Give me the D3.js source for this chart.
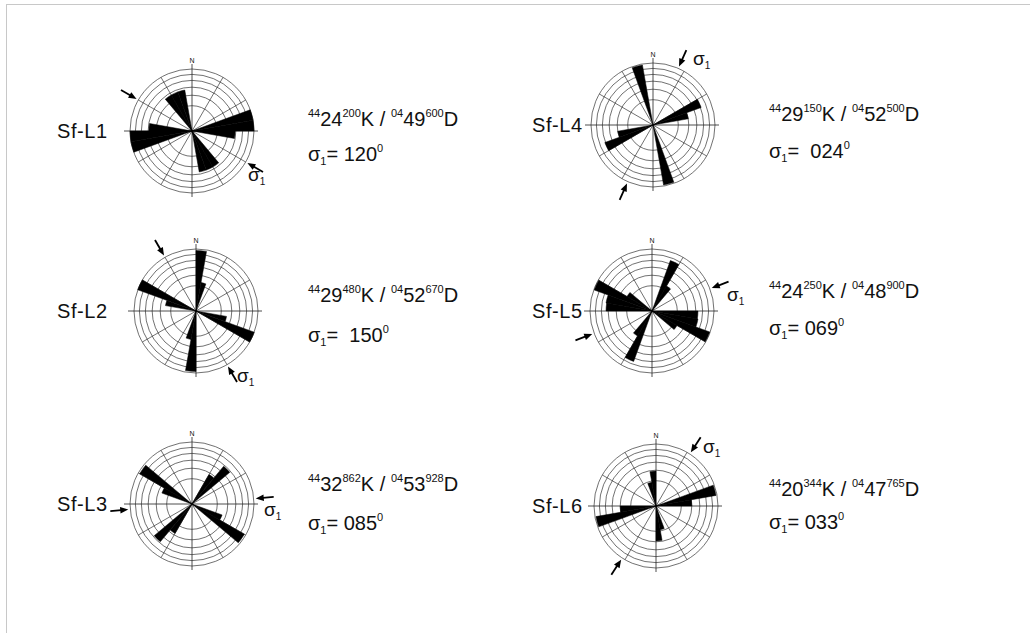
<!DOCTYPE html>
<html>
<head>
<meta charset="utf-8">
<script src="https://cdn.jsdelivr.net/npm/d3@7"></script>
<style>
  body { margin: 0; background: #fff; }
  svg { display: block; }
  text { font-family: "Liberation Sans", Arial, sans-serif; fill: #111; }
</style>
</head>
<body>
<svg id="chart" width="1030" height="633"></svg>
<script>
// ---- Data: joint strike frequencies in 10° classes (0–170°), drawn bidirectionally ----
const sites = ["Sf-L1", "Sf-L2", "Sf-L3", "Sf-L4", "Sf-L5", "Sf-L6"];
const binStarts = d3.range(0, 180, 10);
const roseL1 = [0, 0, 0, 0, 0, 0, 0, 6.0, 6.0, 2.9, 0, 0, 0, 0, 2.7, 2.7, 2.7, 0];
const roseL2 = [5.7, 1.3, 0, 0, 0, 0, 0, 0, 0, 0, 1.5, 6.0, 0, 0, 0, 0, 0, 0];
const roseL3 = [0, 0, 0, 1.8, 3.8, 0, 0, 0, 0, 0, 0, 1.6, 5.7, 0, 0, 0, 0, 0];
const roseL4 = [0, 0, 0, 0, 0, 0, 4.1, 2.0, 0, 0, 0, 0, 0, 0, 0, 0, 5.8, 0];
const roseL5 = [0, 0, 4.5, 1.3, 0, 0, 0, 0, 0, 3.3, 3.4, 5.9, 1.3, 0, 0, 0, 0, 0];
const roseL6 = [0, 0, 0, 0, 0, 0, 0, 5.8, 2.0, 0, 0, 0, 0, 0, 0, 0, 0.9, 1.9];
const roses = [roseL1, roseL2, roseL3, roseL4, roseL5, roseL6];

// Grid rings (equal-area frequency circles) and spokes
const ringTicks = [1, 2, 3, 4, 5, 6];
const spokeAngles = [30, 60, 120, 150, 210, 240, 300, 330];

// Gauss-Krüger coordinates of each site
const kZone = "44", dZone = "04";
const kMajor = ["24", "29", "32", "29", "24", "20"];
const kMinor = ["200", "480", "862", "150", "250", "344"];
const dMajor = ["49", "52", "53", "52", "48", "47"];
const dMinor = ["600", "670", "928", "500", "900", "765"];

// Maximum principal stress direction σ1 (azimuth, degrees)
const sigma1 = [120, 150, 85, 24, 69, 33];
const sigmaGap = [" ", "  ", " ", "  ", " ", " "];

// ---- Layout ----
const R = 62;
const layout = [
  { cx: 192, cy: 131, lx: 57,  tx: 308, y1: 126, y2: 161, sx: 56, sy: 50 },
  { cx: 196, cy: 311, lx: 57,  tx: 308, y1: 302, y2: 342, sx: 41, sy: 71 },
  { cx: 192, cy: 504, lx: 57,  tx: 308, y1: 491, y2: 530, sx: 72, sy: 12 },
  { cx: 653, cy: 125, lx: 532, tx: 769, y1: 121, y2: 158, sx: 40, sy: -60 },
  { cx: 652, cy: 311, lx: 532, tx: 769, y1: 298, y2: 335, sx: 75, sy: -10 },
  { cx: 656, cy: 506, lx: 532, tx: 769, y1: 496, y2: 529, sx: 47, sy: -53 }
];

const svg = d3.select("#chart");

// frame lines
svg.append("line").attr("x1", 6).attr("y1", 4.5).attr("x2", 1030).attr("y2", 4.5)
  .attr("stroke", "#c8c8c8").attr("stroke-width", 1);
svg.append("line").attr("x1", 6.5).attr("y1", 4).attr("x2", 6.5).attr("y2", 633)
  .attr("stroke", "#c8c8c8").attr("stroke-width", 1);

const rScale = d3.scaleSqrt().domain([0, 6]).range([0, R]);
const rad = d => d * Math.PI / 180;
const arc = d3.arc().innerRadius(0);

function richText(sel, x, y, parts) {
  const t = sel.append("text").attr("x", x).attr("y", y)
    .attr("xml:space", "preserve").style("white-space", "pre");
  let cur = 0;
  parts.forEach(p => {
    const off = p.k === "sup" ? -9 : p.k === "sub" ? 4 : 0;
    t.append("tspan")
      .attr("dy", off - cur)
      .attr("font-size", p.k ? 11 : 20)
      .text(p.t);
    cur = off;
  });
  return t;
}

function arrow(g, az) {
  const ux = Math.sin(rad(az)), uy = -Math.cos(rad(az));
  const px = -uy, py = ux;
  const rTip = 64, rBase = 72, rTail = 82;
  g.append("line")
    .attr("x1", ux * rTail).attr("y1", uy * rTail)
    .attr("x2", ux * (rBase - 1)).attr("y2", uy * (rBase - 1))
    .attr("stroke", "#000").attr("stroke-width", 1.8);
  const tip = [ux * rTip, uy * rTip];
  const b1 = [ux * rBase + px * 3.3, uy * rBase + py * 3.3];
  const b2 = [ux * rBase - px * 3.3, uy * rBase - py * 3.3];
  g.append("path").attr("d", d3.line()([tip, b1, b2]) + "Z").attr("fill", "#000");
}

sites.forEach((site, i) => {
  const L = layout[i];
  const g = svg.append("g").attr("transform", `translate(${L.cx},${L.cy})`);

  // frequency rings
  g.selectAll("circle.ring").data(ringTicks).join("circle")
    .attr("class", "ring")
    .attr("r", d => rScale(d))
    .attr("fill", "none").attr("stroke", "#333").attr("stroke-width", 0.7);

  // spokes every 30°
  g.selectAll("line.spoke").data(spokeAngles).join("line")
    .attr("class", "spoke")
    .attr("x1", 0).attr("y1", 0)
    .attr("x2", d => Math.sin(rad(d)) * R)
    .attr("y2", d => -Math.cos(rad(d)) * R)
    .attr("stroke", "#333").attr("stroke-width", 0.7);

  // N–S and E–W axes
  g.append("line").attr("x1", 0).attr("y1", -R - 5).attr("x2", 0).attr("y2", R + 4)
    .attr("stroke", "#222").attr("stroke-width", 0.8);
  g.append("line").attr("x1", -R - 6).attr("y1", 0).attr("x2", R + 4).attr("y2", 0)
    .attr("stroke", "#222").attr("stroke-width", 0.8);
  g.append("text").attr("x", 0).attr("y", -R - 6)
    .attr("text-anchor", "middle").attr("font-size", 7).text("N");

  // rose petals (each class plus its opposite direction)
  const petals = [];
  roses[i].forEach((v, j) => {
    if (v > 0) {
      petals.push({ a: binStarts[j], v });
      petals.push({ a: binStarts[j] + 180, v });
    }
  });
  g.selectAll("path.petal").data(petals).join("path")
    .attr("class", "petal")
    .attr("d", d => arc({ outerRadius: rScale(d.v), startAngle: rad(d.a), endAngle: rad(d.a + 10) }))
    .attr("fill", "#000").attr("stroke", "#000").attr("stroke-width", 0.5)
    .attr("stroke-linejoin", "miter");

  // σ1 arrows
  arrow(g, sigma1[i]);
  arrow(g, sigma1[i] + 180);

  const sl = g.append("text").attr("x", L.sx).attr("y", L.sy);
  sl.append("tspan").attr("font-size", 19).text("σ");
  sl.append("tspan").attr("font-size", 10).attr("dy", 4).text("1");

  // site label
  svg.append("text").attr("x", L.lx).attr("y", L.cy + 7)
    .attr("font-size", 20).attr("letter-spacing", 0.6).text(site);

  // coordinates
  richText(svg, L.tx, L.y1, [
    { t: kZone, k: "sup" }, { t: kMajor[i] }, { t: kMinor[i], k: "sup" }, { t: "K / " },
    { t: dZone, k: "sup" }, { t: dMajor[i] }, { t: dMinor[i], k: "sup" }, { t: "D" }
  ]);
  // σ1 azimuth
  richText(svg, L.tx, L.y2, [
    { t: "σ" }, { t: "1", k: "sub" }, { t: "=" + sigmaGap[i] + d3.format("03d")(sigma1[i]) },
    { t: "0", k: "sup" }
  ]);
});
</script>
</body>
</html>
